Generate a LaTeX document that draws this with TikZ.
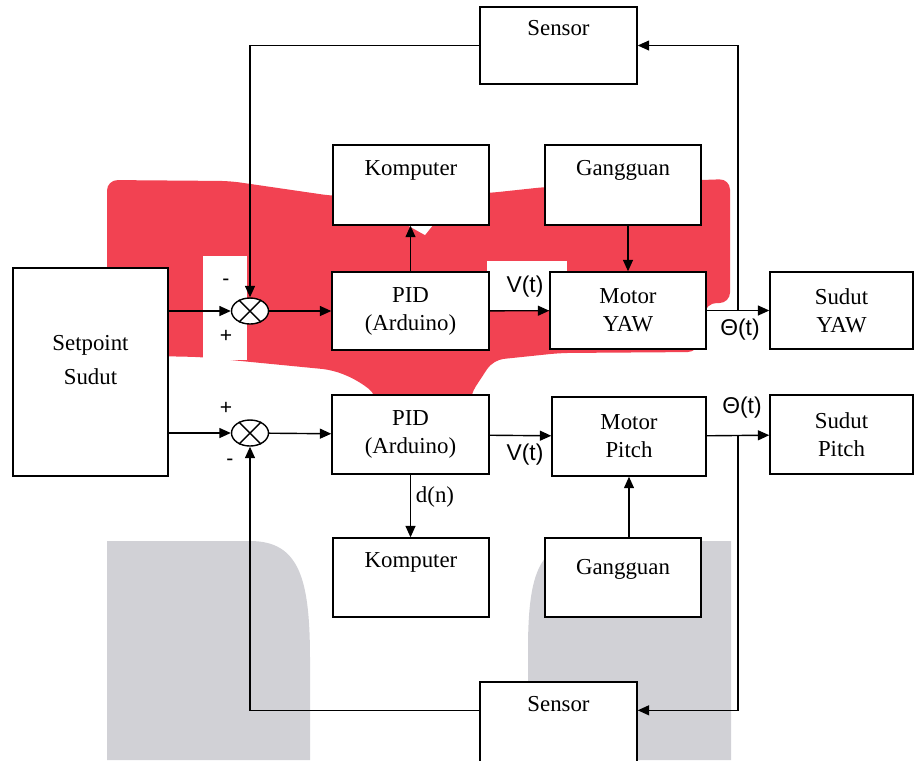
\documentclass[tikz,border=0pt]{standalone}
\usepackage{fontspec}
\setmainfont{Liberation Serif}
\setsansfont{Liberation Sans}
\usetikzlibrary{arrows.meta,shapes,calc}
\definecolor{merah}{RGB}{242,66,82}
\definecolor{abu}{RGB}{209,209,214}

\begin{document}
\begin{tikzpicture}[
  kotak/.style={draw, fill=white, line width=0.8pt, inner sep=0pt, minimum width=3.12cm,
    align=center, font=\fontsize{13}{16}\selectfont},
  jumlah/.style={draw, ellipse, fill=white, line width=0.8pt, inner sep=0pt,
    minimum width=0.74cm, minimum height=0.52cm},
  panah/.style={line width=0.8pt, -{Triangle[length=2.3mm,width=2mm]}},
  garis/.style={line width=0.8pt},
  ket/.style={inner sep=0pt, font=\sffamily\fontsize{13}{16}\selectfont},
  tanda/.style={inner sep=0pt, font=\sffamily\fontsize{12}{14}\selectfont}
]
\useasboundingbox (0,0) rectangle (18.28,-15.2);

\fill[abu] (2.14,-15.2) -- (2.14,-10.82) -- (5.0,-10.82) .. controls (6.0,-10.82) and (6.2,-11.6) .. (6.2,-13.2) -- (6.2,-15.2) -- cycle;
\fill[abu] (10.56,-15.2) -- (10.56,-13.0) .. controls (10.56,-11.4) and (10.8,-10.82) .. (11.8,-10.82) -- (14.62,-10.82) -- (14.62,-15.2) -- cycle;
\fill[merah, rounded corners=6pt] (2.14,-3.6) -- (4.6,-3.62) -- (6.66,-3.92) -- (8.2,-3.9) -- (9.78,-3.86)
  -- (10.9,-3.74) -- (14.02,-3.6) -- (14.6,-3.58) -- (14.6,-6.06) -- (14.12,-6.06) -- (13.96,-7.04)
  -- (11.2,-7.06) -- (9.86,-7.2) -- (9.6,-7.6) -- (9.4,-7.9) -- (9.4,-8.1) -- (7.54,-8.1) -- (7.54,-7.9)
  -- (7.14,-7.6) -- (6.66,-7.4) -- (4.0,-7.14) -- (2.14,-7.1) -- cycle;
\fill[white] (8.14,-4.5) -- (8.66,-4.5) -- (8.5,-4.7) -- cycle;
\fill[white] (4.06,-5.12) rectangle (4.94,-7.2);
\fill[white] (9.74,-5.22) rectangle (11.34,-6.2);

\node[kotak, minimum width=3.14cm, text height=0.56cm, text depth=0.98cm] (sensorA) at (11.17,-0.91) {Sensor};
\node[kotak, text height=0.6cm, text depth=1.0cm] (kompA) at (8.22,-3.7) {Komputer};
\node[kotak, text height=0.6cm, text depth=1.0cm] (gangA) at (12.46,-3.7) {Gangguan};
\node[kotak, minimum width=3.1cm, minimum height=4.16cm] (setpoint) at (1.81,-7.44)
  {\begin{tabular}{@{}c@{}}Setpoint\\[3pt]Sudut\\[0.4cm]\end{tabular}};
\node[jumlah] (sumA) at (5.0,-6.22) {};
\node[kotak, minimum width=3.14cm, minimum height=1.56cm] (pidA) at (8.21,-6.22) {PID\\(Arduino)};
\node[kotak, minimum height=1.54cm] (motA) at (12.56,-6.21) {Motor\\YAW};
\node[kotak, minimum width=2.86cm, minimum height=1.54cm] (sudA) at (16.83,-6.21) {Sudut\\YAW};
\node[jumlah] (sumB) at (5.0,-8.66) {};
\node[kotak, minimum width=3.14cm, minimum height=1.58cm] (pidB) at (8.21,-8.69) {PID\\(Arduino)};
\node[kotak, minimum width=3.08cm, minimum height=1.58cm] (motB) at (12.58,-8.73) {Motor\\Pitch};
\node[kotak, minimum width=2.86cm, minimum height=1.58cm] (sudB) at (16.83,-8.69) {Sudut\\Pitch};
\node[kotak, text height=0.58cm, text depth=1.0cm] (kompB) at (8.22,-11.55) {Komputer};
\node[kotak, text height=0.72cm, text depth=0.86cm] (gangB) at (12.46,-11.55) {Gangguan};
\node[kotak, minimum width=3.14cm, text height=0.58cm, text depth=1.02cm] (sensorB) at (11.17,-14.44) {Sensor};

\draw[garis] (sumA.45) -- (sumA.225) (sumA.135) -- (sumA.315);
\draw[garis] (sumB.45) -- (sumB.225) (sumB.135) -- (sumB.315);

\coordinate (cabA) at ($(motA.east)!0.5!(sudA.west)$);
\coordinate (cabB) at ($(motB.east)!0.5!(sudB.west)$);

\draw[panah] (setpoint.east |- sumA) -- (sumA);
\draw[panah] (sumA) -- (pidA);
\draw[panah] (pidA.north) -- (pidA.north |- kompA.south);
\draw[panah] (motA.north |- gangA.south) -- (motA.north);
\draw[panah] (pidA) -- (motA);
\draw[panah] (motA) -- (sudA);
\draw[panah] (cabA) |- (sensorA);
\draw[panah] (sensorA) -| (sumA);

\draw[panah] (setpoint.east |- sumB) -- (sumB);
\draw[panah] (sumB) -- (pidB);
\draw[panah] (pidB) -- (motB);
\draw[panah] (pidB.south) -- (pidB.south |- kompB.north);
\draw[panah] (motB.south |- gangB.north) -- (motB.south);
\draw[panah] (motB) -- (sudB);
\draw[panah] (cabB) |- ([yshift=-0.58cm]sensorB.north east);
\draw[panah] ([yshift=-0.58cm]sensorB.north west) -| (sumB);

\node[tanda] (minA) at (4.52,-5.64) {-};
\node[tanda] (plusA) at (4.52,-6.72) {+};
\node[tanda] (plusB) at (4.52,-8.16) {+};
\node[tanda] (minB) at (4.6,-9.24) {-};
\node[ket] (vA) at (10.5,-5.74) {V(t)};
\node[ket] (thA) at (14.8,-6.6) {Θ(t)};
\node[ket] (vB) at (10.5,-9.1) {V(t)};
\node[ket] (thB) at (14.84,-8.16) {Θ(t)};
\node[inner sep=0pt, font=\fontsize{13}{16}\selectfont] (dn) at (8.7,-9.94) {d(n)};
\end{tikzpicture}
\end{document}
